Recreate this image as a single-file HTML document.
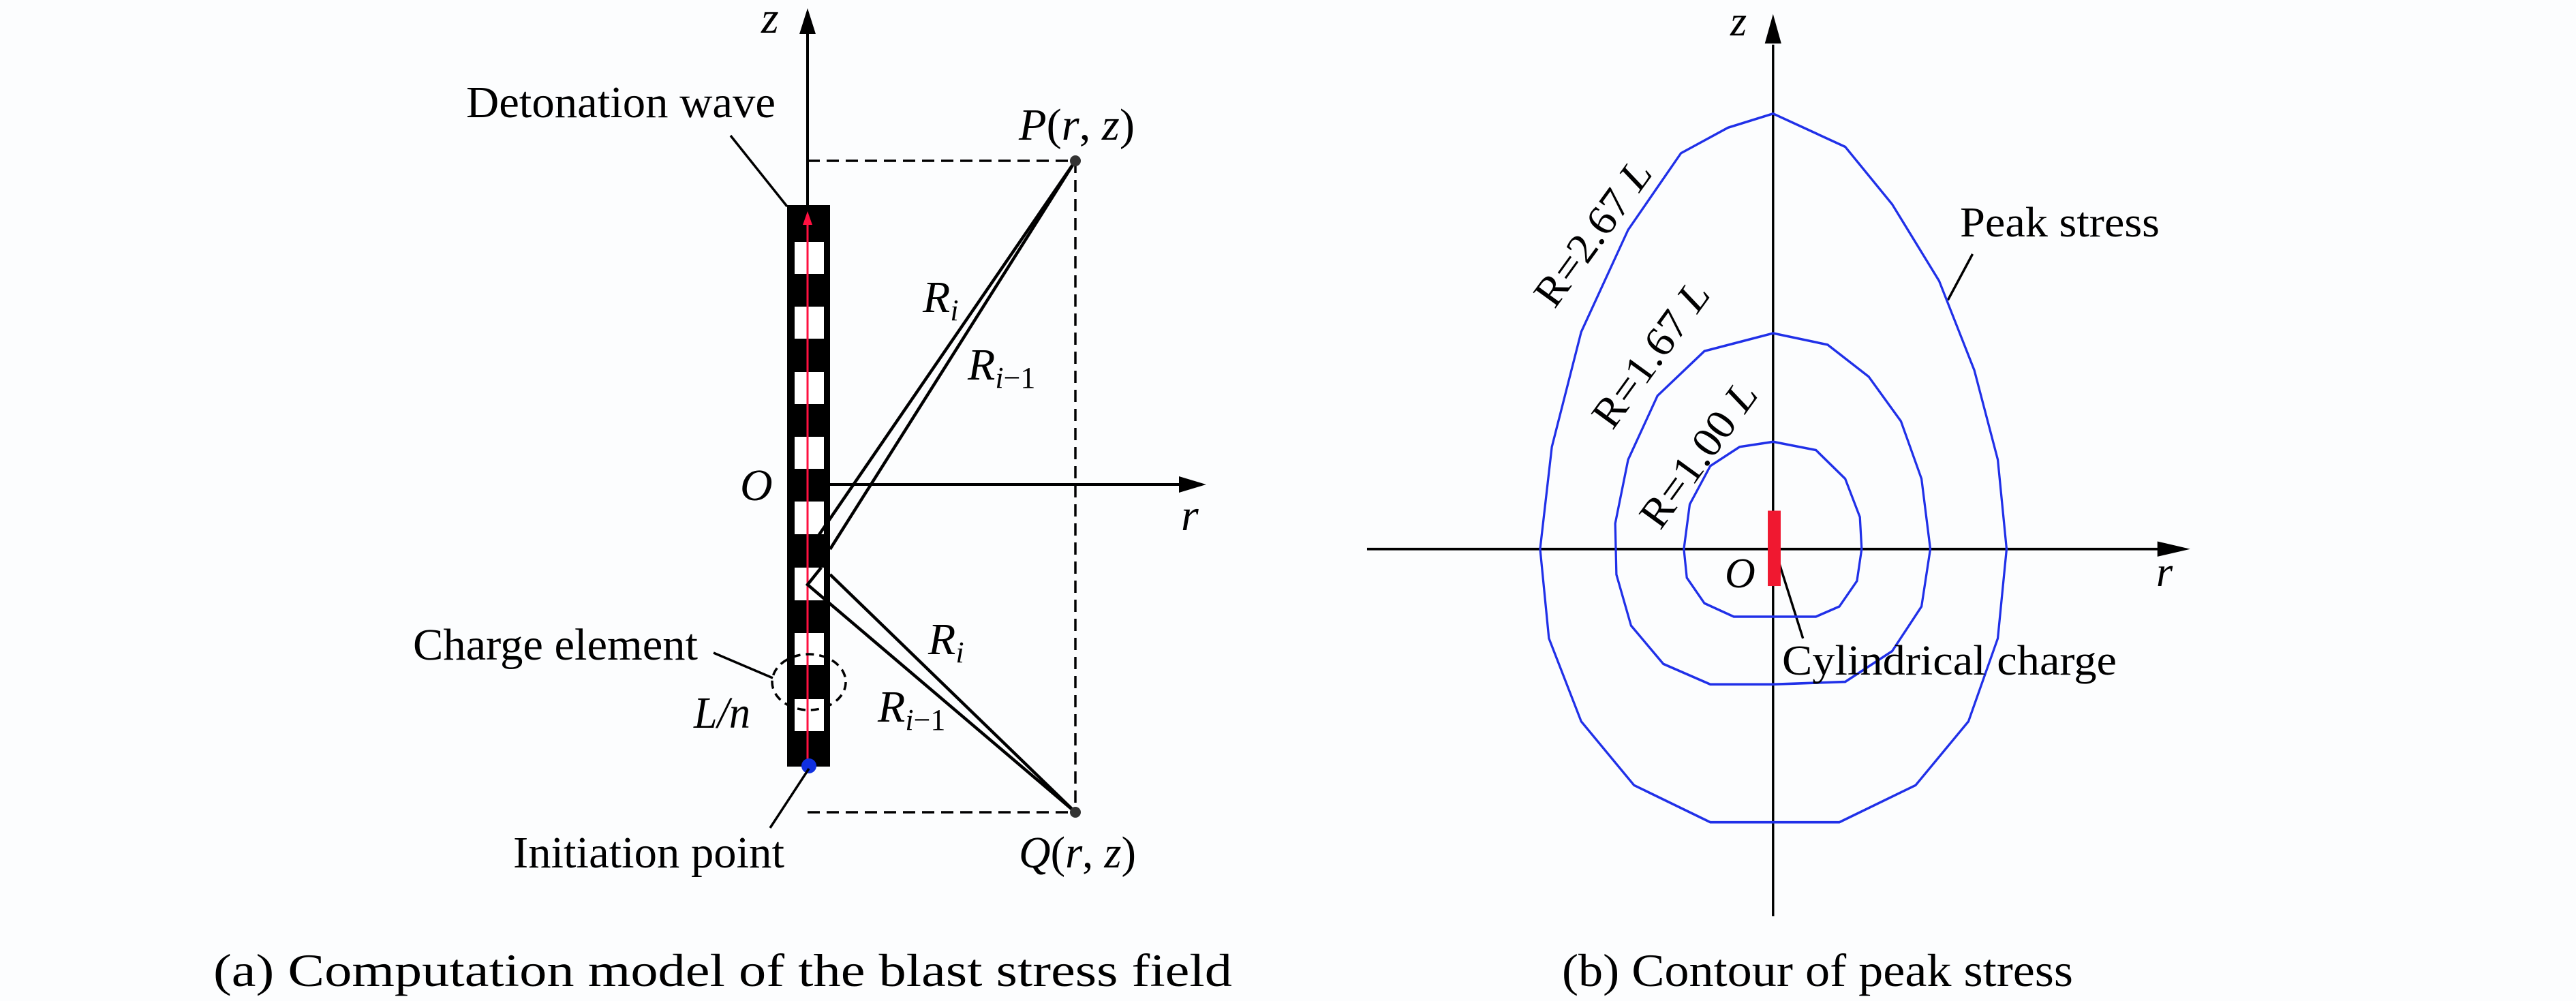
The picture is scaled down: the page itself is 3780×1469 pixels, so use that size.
<!DOCTYPE html>
<html><head><meta charset="utf-8"><style>
html,body{margin:0;padding:0;background:#fcfdfe;}
svg{display:block;}
text{font-family:"Liberation Serif",serif;fill:#000;}
.i{font-style:italic;}
</style></head><body>
<svg width="3780" height="1469" viewBox="0 0 3780 1469" xmlns="http://www.w3.org/2000/svg">
<rect width="3780" height="1469" fill="#fcfdfe"/>
<!-- LEFT FIGURE -->
<g stroke="#000" stroke-width="4" fill="none">
  <line x1="1185" y1="301" x2="1185" y2="50"/>
  <path d="M1185,12 L1173,50 L1197,50z" fill="#000" stroke="none"/>
  <line x1="1218" y1="711" x2="1735" y2="711"/>
  <path d="M1770,711 L1730,699 L1730,723z" fill="#000" stroke="none"/>
  <g stroke-dasharray="18,10" stroke-width="3.5">
    <line x1="1185" y1="236" x2="1578" y2="236"/>
    <line x1="1578" y1="236" x2="1578" y2="1192"/>
    <line x1="1185" y1="1192" x2="1578" y2="1192"/>
  </g>
</g>
<rect x="1155" y="301" width="63" height="824" fill="#000"/>
<g fill="#fff">
  <rect x="1166" y="355" width="43" height="47"/>
  <rect x="1166" y="450" width="43" height="47"/>
  <rect x="1166" y="546" width="43" height="47"/>
  <rect x="1166" y="641" width="43" height="47"/>
  <rect x="1166" y="736" width="43" height="48"/>
  <rect x="1166" y="833" width="43" height="48"/>
  <rect x="1166" y="929" width="43" height="47"/>
  <rect x="1166" y="1026" width="43" height="47"/>
</g>
<line x1="1185" y1="325" x2="1185" y2="1122" stroke="#ff1040" stroke-width="3"/>
<path d="M1185,310 L1178,330 L1192,330z" fill="#ff1040"/>
<circle cx="1187" cy="1124" r="11" fill="#1030e0"/>
<g stroke="#000" stroke-width="4.5" fill="none">
  <line x1="1578" y1="236" x2="1201" y2="786"/>
  <line x1="1578" y1="236" x2="1218" y2="806"/>
  <polyline points="1205,833 1185,858 1578,1192"/>
  <line x1="1218" y1="843" x2="1578" y2="1192"/>
  <line x1="1072" y1="199" x2="1155" y2="303" stroke-width="3.5"/>
  <line x1="1047" y1="958" x2="1134" y2="995" stroke-width="3.5"/>
  <ellipse cx="1187" cy="1001" rx="54" ry="41" stroke-width="3.5" stroke-dasharray="12,8"/>
  <line x1="1130" y1="1215" x2="1187" y2="1128" stroke-width="3.5"/>
</g>
<circle cx="1578" cy="236" r="8" fill="#333"/>
<circle cx="1578" cy="1192" r="8" fill="#333"/>
<g font-size="66">
  <text x="1117" y="48" class="i">z</text>
  <text x="684" y="172" textLength="454" lengthAdjust="spacingAndGlyphs">Detonation wave</text>
  <text x="1495" y="205" textLength="170" lengthAdjust="spacingAndGlyphs"><tspan class="i">P</tspan>(<tspan class="i">r</tspan>, <tspan class="i">z</tspan>)</text>
  <text x="1354" y="458" class="i">R<tspan font-size="44" dy="12">i</tspan></text>
  <text x="1420" y="557" class="i">R<tspan font-size="44" dy="12">i</tspan><tspan font-size="44" font-style="normal">−1</tspan></text>
  <text x="1086" y="734" class="i">O</text>
  <text x="1733" y="778" class="i">r</text>
  <text x="1362" y="960" class="i">R<tspan font-size="44" dy="12">i</tspan></text>
  <text x="1288" y="1059" class="i">R<tspan font-size="44" dy="12">i</tspan><tspan font-size="44" font-style="normal">−1</tspan></text>
  <text x="606" y="968" textLength="418" lengthAdjust="spacingAndGlyphs">Charge element</text>
  <text x="1018" y="1068" class="i" textLength="83" lengthAdjust="spacingAndGlyphs">L/n</text>
  <text x="753" y="1273" textLength="398" lengthAdjust="spacingAndGlyphs">Initiation point</text>
  <text x="1495" y="1273" textLength="172" lengthAdjust="spacingAndGlyphs"><tspan class="i">Q</tspan>(<tspan class="i">r</tspan>, <tspan class="i">z</tspan>)</text>
  <text x="313" y="1447" font-size="68" textLength="1495" lengthAdjust="spacingAndGlyphs">(a) Computation model of the blast stress field</text>
</g>
<!-- RIGHT FIGURE shapes (zoom coords, non-uniform) -->
<g transform="translate(1950,0) scale(0.861,0.93685)">
  <g stroke="#000" stroke-width="4" fill="none">
    <line x1="757" y1="70" x2="757" y2="1435"/>
    <line x1="65" y1="860" x2="1420" y2="860"/>
    <line x1="1097" y1="398" x2="1055" y2="470"/>
    <line x1="765" y1="875" x2="808" y2="1000"/>
  </g>
  <path d="M757,22 L743,68 L771,68z" fill="#000"/>
  <path d="M1468,860 L1412,848 L1412,872z" fill="#000"/>
  <g stroke="#2030e8" stroke-width="3.8" fill="none">
    <path d="M757,178 L880,230 L960,320 L1040,440 L1100,580 L1140,720 L1155,860 L1140,1000 L1090,1130 L1000,1230 L870,1288 L650,1288 L520,1230 L430,1130 L375,1000 L360,860 L380,700 L430,520 L510,360 L600,240 L680,200 Z"/>
    <path d="M757,522 L850,540 L920,590 L975,660 L1010,750 L1025,860 L1010,950 L960,1020 L880,1068 L757,1072 L650,1072 L570,1040 L515,980 L490,900 L488,820 L510,720 L560,620 L640,550 Z"/>
    <path d="M757,692 L830,705 L880,750 L905,810 L908,860 L900,910 L870,950 L830,966 L690,966 L640,945 L610,905 L605,860 L615,790 L650,730 L700,700 Z"/>
  </g>
  <rect x="748" y="800" width="22" height="118" fill="#f01830"/>
</g>
<g font-size="62">
  <text x="2539" y="52" class="i">z</text>
  <text x="2531" y="862" class="i">O</text>
  <text x="3164" y="860" class="i">r</text>
  <text x="2876" y="347" textLength="293" lengthAdjust="spacingAndGlyphs">Peak stress</text>
  <text x="2615" y="990" textLength="491" lengthAdjust="spacingAndGlyphs">Cylindrical charge</text>
  <text transform="translate(2337,342) rotate(-54)" text-anchor="middle" dy="21" textLength="248" lengthAdjust="spacingAndGlyphs">R=2.67 <tspan class="i">L</tspan></text>
  <text transform="translate(2422,520) rotate(-54)" text-anchor="middle" dy="21" textLength="248" lengthAdjust="spacingAndGlyphs">R=1.67 <tspan class="i">L</tspan></text>
  <text transform="translate(2492,667) rotate(-54)" text-anchor="middle" dy="21" textLength="248" lengthAdjust="spacingAndGlyphs">R=1.00 <tspan class="i">L</tspan></text>
  <text x="2292" y="1447" font-size="68" textLength="750" lengthAdjust="spacingAndGlyphs">(b) Contour of peak stress</text>
</g>
</svg>
</body></html>
